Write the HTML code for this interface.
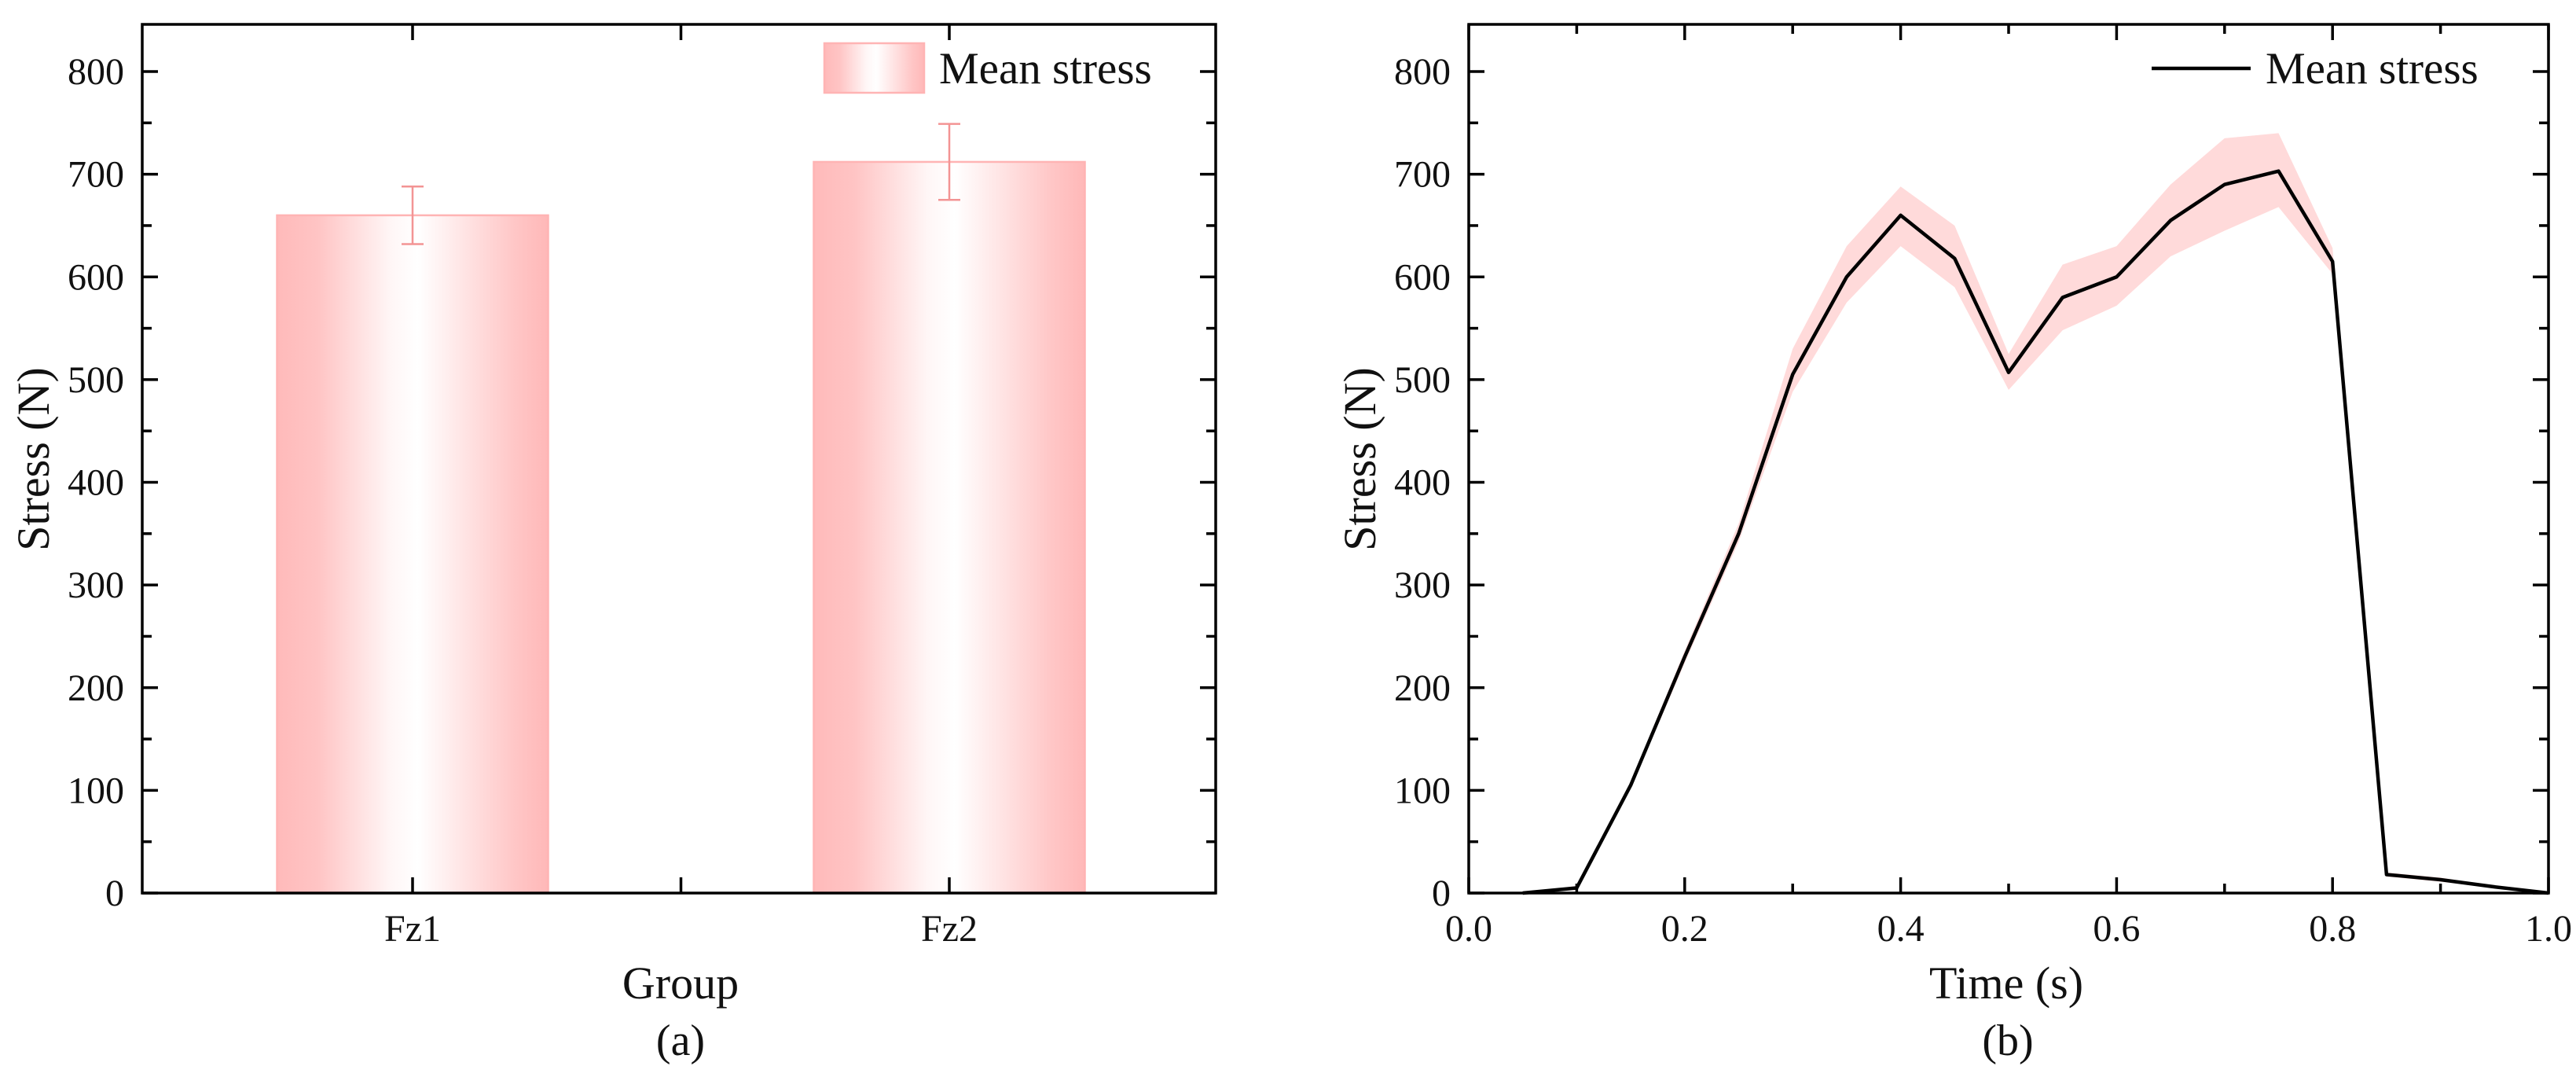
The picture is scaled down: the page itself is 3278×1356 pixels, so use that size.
<!DOCTYPE html>
<html><head><meta charset="utf-8"><style>
html,body{margin:0;padding:0;background:#fff;}
svg{display:block;font-family:"Liberation Serif","Times New Roman",serif;}
</style></head><body>
<svg id="fig" width="3278" height="1356" viewBox="0 0 3278 1356" xmlns="http://www.w3.org/2000/svg">
<defs>
<linearGradient id="barGrad" x1="0" y1="0" x2="1" y2="0">
<stop offset="0" stop-color="#ffbaba"/><stop offset="0.15" stop-color="#ffc4c4"/>
<stop offset="0.42" stop-color="#fff6f6"/><stop offset="0.52" stop-color="#ffffff"/>
<stop offset="0.88" stop-color="#ffc6c6"/><stop offset="1" stop-color="#ffb8b8"/>
</linearGradient>
</defs>
<g id="panelA"></g>
<g id="panelB"></g>
</svg>
<script>
// Panel (a) data
const groups = ["Fz1", "Fz2"];
const barMeans = [660, 712];
const barErrors = [28, 37];
// Panel (b) data
const times = [0.05,0.1,0.15,0.2,0.25,0.3,0.35,0.4,0.45,0.5,0.55,0.6,0.65,0.7,0.75,0.8,0.85,0.9,0.95,1.0];
const meanStress = [0,5,105,230,350,505,600,660,618,507,580,600,655,690,703,615,18,13,6,0];
const upperStress = [0,7,108,236,360,530,630,688,650,525,612,630,690,735,740,628,20,15,7,0];
const lowerStress = [0,3,102,224,342,488,575,630,590,490,548,572,620,645,668,603,16,11,5,0];
const yTicks = [0,100,200,300,400,500,600,700,800];
const xTicksB = [0.0,0.2,0.4,0.6,0.8,1.0];
const xTickLabelsB = ["0.0","0.2","0.4","0.6","0.8","1.0"];

const NS = "http://www.w3.org/2000/svg";
function mk(parent, tag, attrs, text){
  const e = document.createElementNS(NS, tag);
  for (const k in attrs) e.setAttribute(k, attrs[k]);
  if (text !== undefined) e.textContent = text;
  parent.appendChild(e);
  return e;
}
const TOP = 31, BOT = 1136;
function yS(v){ return BOT - v * (1136 - 91) / 800; }
const SW = 3.5, MAJ = 20, MIN = 12;

function frame(g, x0, x1){
  const r = mk(g, "rect", {x:x0, y:TOP, width:x1-x0, height:BOT-TOP, fill:"none", stroke:"#000", "stroke-width":SW});
  
  
  for (let v = 0; v <= 850; v += 50){
    const y = yS(v); if (y < TOP) continue;
    const L = (v % 100 === 0) ? MAJ : MIN;
    const t1 = mk(g, "line", {x1:x0, x2:x0+L, y1:y, y2:y, stroke:"#000", "stroke-width":SW});
    
    
    const t2 = mk(g, "line", {x1:x1, x2:x1-L, y1:y, y2:y, stroke:"#000", "stroke-width":SW});
    
    
  }
  yTicks.forEach(v => {
    const t = mk(g, "text", {x:x0-23, y:yS(v)+16, "font-size":48, "text-anchor":"end", fill:"#111"}, String(v));
    
    
  });
}
function xtick(g, x, L){
  const a = mk(g, "line", {x1:x, x2:x, y1:BOT, y2:BOT-L, stroke:"#000", "stroke-width":SW});
  
  
  const b = mk(g, "line", {x1:x, x2:x, y1:TOP, y2:TOP+L, stroke:"#000", "stroke-width":SW});
  
  
}

// ---- Panel A ----
const gA = document.getElementById("panelA");
const AX0 = 181, AX1 = 1547;
function xA(i){ return 525 + i * (1208 - 525); }
const barW = 345;
groups.forEach((gname, i) => {
  const cx = xA(i), top = yS(barMeans[i]);
  const r = mk(gA, "rect", {x:cx-barW/2, y:top, width:barW, height:BOT-top, fill:"url(#barGrad)", stroke:"#ffb4b4", "stroke-width":2.5});
  
  
  const eHi = yS(barMeans[i] + barErrors[i]), eLo = yS(barMeans[i] - barErrors[i]);
  const eg = mk(gA, "g", {stroke:"#f39494", "stroke-width":2.5});
  
  
  mk(eg, "line", {x1:cx, x2:cx, y1:eHi, y2:eLo});
  mk(eg, "line", {x1:cx-14, x2:cx+14, y1:eHi, y2:eHi});
  mk(eg, "line", {x1:cx-14, x2:cx+14, y1:eLo, y2:eLo});
  const t = mk(gA, "text", {x:cx, y:1197, "font-size":48, "text-anchor":"middle", fill:"#111"}, gname);
  
  
});
frame(gA, AX0, AX1);
[0, 0.5, 1].forEach(f => xtick(gA, xA(f), MAJ));
(function(){
  const lb = mk(gA, "rect", {x:1049, y:55, width:127, height:63, fill:"url(#barGrad)", stroke:"#ffb4b4", "stroke-width":2.5});
  
  
  const lt = mk(gA, "text", {x:1195, y:106, "font-size":57, fill:"#111"}, "Mean stress");
  
  
  const yt = mk(gA, "text", {x:0, y:0, "font-size":58, "text-anchor":"middle", fill:"#111", transform:"translate(62,584) rotate(-90)"}, "Stress (N)");
  
  
  const xt = mk(gA, "text", {x:866, y:1270, "font-size":58, "text-anchor":"middle", fill:"#111"}, "Group");
  
  
  const cap = mk(gA, "text", {x:866, y:1342, "font-size":56, "text-anchor":"middle", fill:"#111"}, "(a)");
  
  
})();

// ---- Panel B ----
const gB = document.getElementById("panelB");
const BX0 = 1869, BX1 = 3243;
function xB(t){ return BX0 + t * (BX1 - BX0); }
let bandD = "";
times.forEach((t, i) => { bandD += (i ? "L" : "M") + xB(t) + "," + yS(upperStress[i]) + " "; });
for (let i = times.length - 1; i >= 0; i--) bandD += "L" + xB(times[i]) + "," + yS(lowerStress[i]) + " ";
const band = mk(gB, "path", {d:bandD + "Z", fill:"#ffd3d3", stroke:"none", opacity:0.85});


const pts = times.map((t, i) => xB(t) + "," + yS(meanStress[i])).join(" ");
const line = mk(gB, "polyline", {points:pts, fill:"none", stroke:"#000", "stroke-width":4.5, "stroke-linejoin":"round"});


frame(gB, BX0, BX1);
for (let k = 0; k <= 10; k++) xtick(gB, xB(k/10), k % 2 === 0 ? MAJ : MIN);
xTicksB.forEach((t, i) => {
  const tl = mk(gB, "text", {x:xB(t), y:1197, "font-size":48, "text-anchor":"middle", fill:"#111"}, xTickLabelsB[i]);
  
  
});
(function(){
  const ll = mk(gB, "line", {x1:2738, x2:2864, y1:87, y2:87, stroke:"#000", "stroke-width":4.5});
  
  
  const lt = mk(gB, "text", {x:2883, y:106, "font-size":57, fill:"#111"}, "Mean stress");
  
  
  const yt = mk(gB, "text", {x:0, y:0, "font-size":58, "text-anchor":"middle", fill:"#111", transform:"translate(1750,584) rotate(-90)"}, "Stress (N)");
  
  
  const xt = mk(gB, "text", {x:2553, y:1270, "font-size":58, "text-anchor":"middle", fill:"#111"}, "Time (s)");
  
  
  const cap = mk(gB, "text", {x:2555, y:1342, "font-size":56, "text-anchor":"middle", fill:"#111"}, "(b)");
  
  
})();
</script>
</body></html>
